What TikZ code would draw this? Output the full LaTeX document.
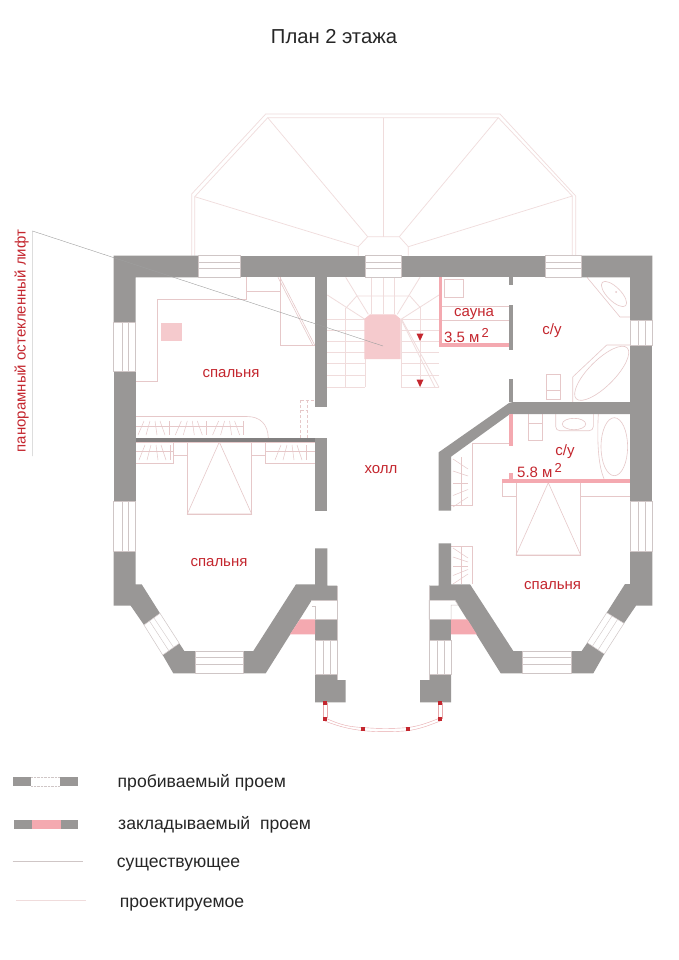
\documentclass[tikz,border=0pt]{standalone}
\usepackage{fontspec}
\setmainfont{Liberation Sans}
\newcommand{\hwin}[4]{% x1 y1 x2 y2 horizontal-run window
  \draw[winbox] (#1,#2) rectangle (#3,#4);
  \draw[winline] (#1,{#2+(#4-#2)*0.28}) -- (#3,{#2+(#4-#2)*0.28});
  \draw[winline] (#1,{#2+(#4-#2)*0.58}) -- (#3,{#2+(#4-#2)*0.58});}
\newcommand{\vwin}[4]{%
  \draw[winbox] (#1,#2) rectangle (#3,#4);
  \draw[winline] ({#1+(#3-#1)*0.38},#2) -- ({#1+(#3-#1)*0.38},#4);
  \draw[winline] ({#1+(#3-#1)*0.68},#2) -- ({#1+(#3-#1)*0.68},#4);}
\newcommand{\wgroup}[3]{% x, ytop, ybottom: one set of hangers
  \draw[hatch] (#1,#3) -- ({#1+6},#2);
  \draw[hatch] ({#1+8},#3) -- ({#1+12},#2);
  \draw[hatch] ({#1+17},#2) -- ({#1+19},#3);
  \draw[hatch] ({#1+22},#2) -- ({#1+27},#3);
  \draw[hatch] ({#1+31},#2) -- ({#1+31},#3);}
\newcommand{\vgroup}[2]{% ycentre list spacing: fan of hangers, x fixed
  \foreach \k/\s in {0/5,1/2.5,2/0,3/-3,4/-5}{
    \pgfmathsetmacro{\ya}{#1+\k*#2}
    \draw[hatch] (453,{\ya-\s}) -- (468,{\ya+\s});}}
\definecolor{wallgrey}{HTML}{999796}
\definecolor{liftpink}{HTML}{F5CACD}
\definecolor{blockpink}{HTML}{F4A9B0}
\definecolor{planred}{HTML}{C4262E}
\definecolor{oldline}{HTML}{CFC6C6}
\definecolor{newline}{HTML}{F0DCDC}
\definecolor{midline}{HTML}{E6C8C9}
\tikzset{
  wall/.style={fill=wallgrey,draw=none},
  pinkblock/.style={fill=blockpink,draw=none},
  winbox/.style={fill=white,draw=oldline,line width=0.5pt},
  winline/.style={draw=oldline,line width=0.4pt},
  roofline/.style={draw=newline,line width=0.7pt},
  plan/.style={draw=midline,line width=0.6pt},
  hatch/.style={draw=midline,line width=0.5pt},
  stairline/.style={draw=newline,line width=0.8pt},
  leader/.style={draw=gray!75,line width=0.4pt},
  redlab/.style={text=planred,font=\fontsize{15}{17}\selectfont,inner sep=0pt},
  leglab/.style={text=black!85,font=\fontsize{17.6}{20}\selectfont,inner sep=0pt,anchor=base west},
  bayline/.style={draw=planred!40,line width=0.4pt},
  baypost/.style={fill=planred,draw=none},
  arrowmark/.style={fill=planred,draw=none}
}
\begin{document}
\begin{tikzpicture}[x=1pt,y=-1pt]
\useasboundingbox (0,0) rectangle (679,960);
\fill[white] (0,0) rectangle (679,960);

% roof
\draw[roofline] (191.7,255.7) -- (191.7,194) -- (265.7,114) -- (500,114) -- (575.7,196) -- (575.7,255.7);
\draw[roofline] (194.7,255.7) -- (194.7,196.7) -- (267.7,117.7) -- (498.3,117.7) -- (572.3,196) -- (572.3,255.7);
\draw[roofline] (358.3,255.7) -- (358.3,246.7) -- (367.7,236.7) -- (399.3,236.7) -- (408.3,246.7) -- (408.3,255.7);
\draw[roofline] (194.7,196.7) -- (358.3,246.7);
\draw[roofline] (267.7,117.7) -- (367.7,236.7);
\draw[roofline] (383.3,117.7) -- (383.3,236.7);
\draw[roofline] (498.3,117.7) -- (399.3,236.7);
\draw[roofline] (572.3,196) -- (408.3,246.7);

% stairs
\foreach \y in {319.3,330,341,352.3,363.3,375,387.3}{
  \draw[stairline] (327.3,\y) -- (365,\y);
  \draw[stairline] (401,\y) -- (439,\y);}
\draw[stairline] (345.7,308) -- (345.7,387.3);
\draw[stairline] (420,307) -- (420,387.3);
\draw[stairline] (365,319.3) -- (365,387.3);
\draw[stairline] (401,319.3) -- (401,387.3);
\foreach \x in {371.7,383.3,394.3}{\draw[stairline] (\x,277.3) -- (\x,314.3);}
\draw[stairline] (327.3,295) -- (365,319.3);
\draw[stairline] (345.7,277.3) -- (368.3,314.3);
\draw[stairline] (345.7,308.3) -- (356.7,296) -- (410,296) -- (420,307.3);
\draw[stairline] (439,295) -- (401,319.3);
\draw[stairline] (420,277.3) -- (397.3,314.3);
\draw[stairline] (401.7,319.3) -- (439,387.3);
\draw[stairline] (401.7,320.7) -- (435,387.3);
\fill[liftpink] (364.3,319) -- (370,314.3) -- (395,314.3) -- (400.7,319) -- (400.7,359) -- (364.3,359) -- cycle;
\fill[arrowmark] (416.5,333.5) -- (423.5,333.5) -- (420,341) -- cycle;
\fill[arrowmark] (416.5,379.5) -- (423.5,379.5) -- (420,387) -- cycle;

% upper-left bedroom furniture
\draw[plan] (135.7,381) -- (157.3,381) -- (157.3,299) -- (246.7,299) -- (246.7,277.3);
\draw[plan] (246.7,291) -- (280,291);
\draw[plan] (280,277.3) -- (280,345.7) -- (315,345.7);
\draw[plan] (280,277.3) -- (315,345.7);
\draw[plan] (278,277.3) -- (313,345.7);
\fill[liftpink] (160.7,323.3) rectangle (181.7,341);

% wardrobes
\draw[plan] (135.7,416.5) -- (246.7,416.5) .. controls (260,416.5) and (268,424) .. (268.3,438.3);
\draw[plan] (135.7,426.7) -- (243,426.7);
\wgroup{138}{421}{435}
\wgroup{175.3}{421}{435}
\wgroup{212.6}{421}{435}
\draw[plan] (135.7,442) -- (173.3,442) -- (173.3,463.3) -- (135.7,463.3);
\draw[plan] (135.7,451) -- (173.3,451);
\wgroup{139}{445}{460}
\draw[plan] (173.3,442) rectangle (187.3,455);
\draw[plan] (187.3,442) rectangle (251.7,514);
\draw[plan] (219.3,442) -- (187.3,514) -- (251.7,514) -- cycle;
\draw[plan] (251.7,442) rectangle (265,455);
\draw[plan] (265,442) rectangle (315,463.3);
\draw[plan] (265,451) -- (315,451);
\wgroup{275}{445}{460}
\draw[plan,densely dashed] (300.7,400) -- (300.7,438.3);
\draw[plan,densely dashed] (307.3,400) -- (307.3,438.3);
\draw[plan,densely dashed] (300.7,400) -- (315,400);
\draw[plan,densely dashed] (300.7,410) -- (307.3,410);

% sauna
\draw[plan] (444,279) rectangle (463,297);
\draw[plan] (442,306) -- (509,306);
\draw[plan] (442,320) -- (509,320);

% upper bathroom
\draw[plan] (587,277.3) -- (620,317) -- (630,317);
\draw[plan,rotate around={-45:(614,294)}] (614,294) ellipse (16.5 and 6.8);
\fill[midline] (616,292) circle (1);
\draw[plan] (572.7,402) -- (572.7,377) -- (606.7,345) -- (630,345);
\draw[plan,rotate around={45:(601.7,373.3)}] (601.7,373.3) ellipse (36 and 13);
\draw[plan] (546.7,374.3) rectangle (560,399.3);
\draw[plan] (546.7,390) -- (560,390);

% lower bathroom
\draw[plan] (528.3,414) -- (528.3,440) -- (542.7,440) -- (542.7,414);
\draw[plan] (528.3,423) -- (542.7,423);
\draw[plan,rounded corners=4pt] (555.7,414) -- (555.7,430.7) -- (593.3,430.7) -- (593.3,414);
\draw[plan] (574,424) ellipse (11.7 and 5.7);
\draw[plan] (598.3,414) .. controls (597,440) and (598,465) .. (604,478.7);
\draw[plan] (614.3,446.7) ellipse (13.3 and 29);

% lower-right bedroom
\draw[plan] (513,443.3) -- (472.7,443.3) -- (472.7,505.7) -- (451,505.7);
\draw[plan] (461.7,457) -- (461.7,505.7);
\vgroup{464}{9.5}
\draw[plan] (451,546.7) -- (472.7,546.7) -- (472.7,584.3);
\draw[plan] (461.7,546.7) -- (461.7,584.3);
\vgroup{553}{6.5}
\draw[plan] (502.3,482.7) rectangle (516,496.7);
\draw[plan] (516,482.7) rectangle (580.7,555);
\draw[plan] (548.3,482.7) -- (516,555) -- (580.7,555) -- cycle;
\draw[plan] (580.7,482.7) -- (580.7,496.7) -- (630,496.7);

% walls: outer shell
\fill[wall] (113.5,255.7) -- (198,255.7) -- (198,277.3) -- (135.7,277.3) -- (135.7,322.7) -- (113.5,322.7) -- cycle;
\fill[wall] (240,255.7) rectangle (365,277.3);
\fill[wall] (401,255.7) rectangle (545,277.3);
\fill[wall] (581,255.7) -- (652.3,255.7) -- (652.3,320.7) -- (630,320.7) -- (630,277.3) -- (581,277.3) -- cycle;
\fill[wall] (630,345) -- (652.3,345) -- (652.3,501.7) -- (630,501.7) -- cycle;
\fill[wall] (113.5,371.7) rectangle (135.7,501.7);
\fill[wall] (113.5,551) -- (135.7,551) -- (135.7,584.3) -- (141.7,584.3) -- (160,613.3) -- (144,625) -- (130.7,605.7) -- (113.5,605.7) -- cycle;
\fill[wall] (162.7,655) -- (179.3,643.3) -- (184.3,651) -- (195,651) -- (195,673.3) -- (173.3,673.3) -- cycle;
\fill[wall] (243.3,651) -- (253.3,651) -- (296,584.3) -- (315,584.3) -- (315,548.3) -- (327.3,548.3) -- (327.3,585.7) -- (337,585.7) -- (337,600.3) -- (311.7,600.3) -- (265.7,673.3) -- (243.3,673.3) -- cycle;
\fill[wall] (315,277.3) rectangle (327.3,406.7);
\fill[wall] (315,438.3) rectangle (327.3,510.7);
\fill[wall] (315,619.3) rectangle (337,640);
\fill[wall] (315,674) -- (337,674) -- (337,680) -- (345.7,680) -- (345.7,702.3) -- (315,702.3) -- cycle;
\fill[pinkblock] (300,619.3) -- (315,619.3) -- (315,634.3) -- (290,634.3) -- cycle;
% right side
\fill[wall] (522.7,651) -- (513.3,651) -- (470,584.3) -- (451,584.3) -- (451,543.3) -- (438.7,543.3) -- (438.7,585.7) -- (429,585.7) -- (429,600.3) -- (455,600.3) -- (500.7,673.3) -- (522.7,673.3) -- cycle;
\fill[wall] (429,619.3) rectangle (451,640);
\fill[wall] (429,674) -- (451,674) -- (451,702.3) -- (420,702.3) -- (420,680) -- (429,680) -- cycle;
\fill[pinkblock] (451,619.3) -- (467.3,619.3) -- (476.7,634.3) -- (451,634.3) -- cycle;
\fill[wall] (571.7,651) -- (581.7,651) -- (587.3,642.7) -- (604.3,654) -- (593.3,673.3) -- (571.7,673.3) -- cycle;
\fill[wall] (630,551) -- (652.3,551) -- (652.3,605.7) -- (636,605.7) -- (624,623.3) -- (606.7,612.7) -- (625,584) -- (630,584) -- cycle;
% inner hall/diagonal wall
\fill[wall] (438.7,510.7) -- (438.7,452.3) -- (509,403) -- (512.7,402) -- (630,402) -- (630,414) -- (510,414) -- (451,456.7) -- (451,510.7) -- cycle;
% partitions
\fill[wall] (509,276.7) rectangle (512.7,285);
\fill[wall] (509,305) rectangle (512.7,350);
\fill[wall] (509,379) rectangle (512.7,402);
\fill[wallgrey!85!black] (135.7,438.3) rectangle (315,442);

% pink partitions
\fill[pinkblock] (439,277.3) rectangle (442.3,346.7);
\fill[pinkblock] (439,342.7) rectangle (509,346.7);
\fill[pinkblock] (509.3,414) rectangle (513.3,446);
\fill[pinkblock] (502.3,478.7) rectangle (630,482.7);
\fill[pinkblock] (509.3,473.3) rectangle (513.3,478.7);

% windows
\hwin{198}{255.7}{240}{277.3}
\hwin{365}{255.7}{401}{277.3}
\hwin{545}{255.7}{581}{277.3}
\vwin{113.5}{322.7}{135.7}{371.7}
\vwin{630}{320.7}{652.3}{345}
\vwin{113.5}{501.7}{135.7}{551}
\vwin{630}{501.7}{652.3}{551}
\hwin{195}{651}{243.3}{673.3}
\hwin{522.7}{651}{571.7}{673.3}
\vwin{315}{640}{337}{674}
\vwin{429}{640}{451}{674}
\draw[winbox] (311.7,600.3) -- (337,600.3) -- (337,619.3) -- (315,619.3) -- (315,606) -- (311.7,606);
\draw[winbox] (429,600.3) -- (455,600.3) -- (458,605) -- (451,605) -- (451,619.3) -- (429,619.3) -- cycle;
\draw[winline] (337,585.7) -- (337,680);
\draw[winline] (429,585.7) -- (429,680);
% diagonal windows
\draw[winbox] (144,625) -- (160,613.3) -- (179.3,643.3) -- (162.7,655) -- cycle;
\draw[winline] (149.5,621) -- (169,651);
\draw[winline] (154,618) -- (174,648);
\draw[winbox] (606.7,612.7) -- (624,623.3) -- (604.3,654) -- (587.3,642.7) -- cycle;
\draw[winline] (612,616) -- (592.5,646);
\draw[winline] (617.5,619.5) -- (598,650);

% bay window
\coordinate (bl1) at (325,703.3);
\coordinate (bl2) at (325,719.3);
\coordinate (bm1) at (363,729);
\coordinate (bm2) at (408,729);
\coordinate (br2) at (440.3,719.3);
\coordinate (br1) at (440.3,703.3);
\draw[bayline] (323.3,703) -- (323.3,719);
\draw[bayline] (327.3,703) -- (327.3,717.5);
\draw[bayline] (438.3,703) -- (438.3,717.5);
\draw[bayline] (442.3,703) -- (442.3,719);
\draw[bayline] (bl2) ++(0,-1.5) .. controls (340,725) and (350,727) .. (363,727.5) .. controls (378,728.8) and (393,728.8) .. (408,727.5) .. controls (420,726) and (430,722) .. (440.3,717.8);
\draw[bayline] (bl2) ++(0,1.8) .. controls (340,727) and (350,729) .. (363,730.7) .. controls (378,732) and (393,732) .. (408,730.7) .. controls (420,729) and (430,725) .. (440.3,721);
\foreach \p in {bl1,bl2,bm1,bm2,br2,br1}{\fill[baypost] (\p) ++(-1.9,-1.9) rectangle ++(3.8,3.8);}

% leader
\coordinate (lftop) at (32.5,231);
\coordinate (lfbot) at (32.5,456);
\coordinate (lftarget) at (383,346);
\draw[leader] (lfbot) -- (lftop) -- (lftarget);

% labels
\node[text=black!85,font=\fontsize{20.2}{22}\selectfont,inner sep=0pt] (title) at (334,37) {План 2 этажа};
\node[redlab,rotate=90] (liftlab) at (21.5,341) {панорамный остекленный лифт};
\node[redlab] (room1) at (231,374) {спальня};
\node[redlab] (room2) at (219,563) {спальня};
\node[redlab] (room3) at (552.6,586) {спальня};
\node[redlab] (hall) at (381,470) {холл};
\node[redlab] (bath1) at (552,330.5) {с/у};
\node[redlab] (bath2) at (565,451.5) {с/у};
\node[redlab] (sauna) at (474,314) {сауна};
\node[redlab,anchor=base west] (area1) at (444,342) {3.5 м\raisebox{5pt}{\fontsize{13}{13}\selectfont\,2}};
\node[redlab,anchor=base west] (area2) at (517,477) {5.8 м\raisebox{5pt}{\fontsize{13}{13}\selectfont\,2}};

% legend
\fill[wall] (13.3,777.3) rectangle (31,786);
\fill[wall] (60,777.3) rectangle (78,786);
\draw[winline,densely dotted] (31,777.3) -- (60,777.3);
\draw[winline,densely dotted] (31,786) -- (60,786);
\fill[wall] (14,820) rectangle (32,829);
\fill[pinkblock] (32,820) rectangle (61,829);
\fill[wall] (61,820) rectangle (78.3,829);
\coordinate (oldA) at (12.7,861.3);
\coordinate (oldB) at (82.7,861.3);
\coordinate (newA) at (16,900.3);
\coordinate (newB) at (86,900.3);
\draw[draw=oldline,line width=0.5pt] (oldA) -- (oldB);
\draw[draw=newline,line width=0.5pt] (newA) -- (newB);
\node[leglab] (leg1) at (117.5,787) {пробиваемый проем};
\node[leglab] (leg2) at (118,829.5) {закладываемый\ \ проем};
\node[leglab] (leg3) at (116.7,867.5) {существующее};
\node[leglab] (leg4) at (119.7,907) {проектируемое};
\end{tikzpicture}
\end{document}
